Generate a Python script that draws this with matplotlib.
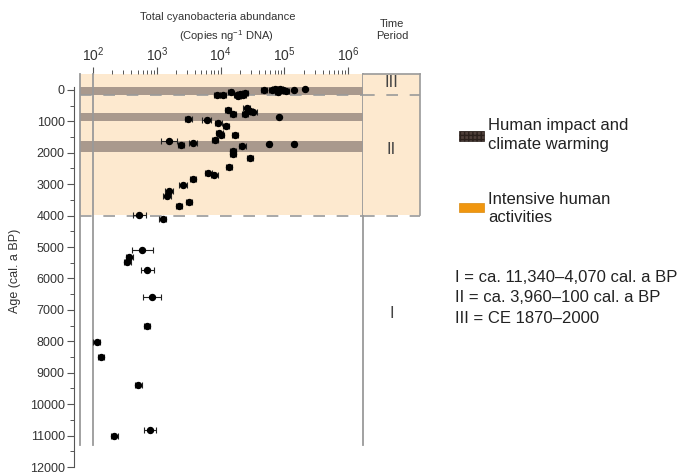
import matplotlib
matplotlib.use('Agg')
import matplotlib.pyplot as plt
from matplotlib.patches import Rectangle
from matplotlib.ticker import FixedLocator, NullFormatter
import numpy as np

plt.rcParams['font.family'] = ['Liberation Sans', 'DejaVu Sans']
plt.rcParams['mathtext.fontset'] = 'custom'
plt.rcParams['mathtext.rm'] = 'Liberation Sans'
plt.rcParams['mathtext.it'] = 'Liberation Sans:italic'

# data
age = [0, 0, -30, 0, -30, 0, 0, -30, 60, 30,
       175, 160, 60, 160, 125, 160, 95, 190,
       630, 765, 575, 685, 715, 755, 875,
       925, 945, 1070, 1160, 1365, 1450, 1600, 1435,
       1640, 1765, 1705, 1735, 1715, 1940, 1800, 2030, 2165,
       2440, 2660, 2715, 2840, 3030, 3230, 3385, 3555, 3710,
       3995, 4100, 5100, 5310, 5465, 5730, 6600, 7520, 8010, 8490, 9380, 10810, 11020]
abundance = [47900, 63200, 71200, 76600, 85300, 94000, 141000, 210000, 79000, 106000,
             8790, 10900, 14400, 17900, 20100, 22200, 24100, 19000,
             13200, 15800, 25600, 28900, 32600, 24100, 82200,
             3120, 6050, 9210, 12200, 9550, 10000, 8170, 16800,
             1570, 2390, 3650, 57900, 143000, 15800, 22000, 15500, 28900,
             13600, 6450, 8020, 3730, 2600, 1570, 1430, 3200, 2250,
             532, 1230, 593, 371, 345, 710, 849, 695, 114, 133, 513, 782, 216]
# half-width of the error bars, in decades
err_dec = [0.05, 0.05, 0.04, 0.04, 0.04, 0.04, 0.02, 0.02, 0.04, 0.04,
           0.05, 0.05, 0.04, 0.05, 0.04, 0.05, 0.05, 0.04,
           0.05, 0.05, 0.05, 0.05, 0.05, 0.04, 0.02,
           0.05, 0.07, 0.05, 0.05, 0.05, 0.05, 0.05, 0.05,
           0.125, 0.05, 0.06, 0.02, 0.02, 0.05, 0.05, 0.05, 0.05,
           0.05, 0.06, 0.06, 0.05, 0.06, 0.06, 0.06, 0.05, 0.05,
           0.105, 0.05, 0.16, 0.05, 0.05, 0.105, 0.14, 0.05, 0.05, 0.05, 0.05, 0.10, 0.05]

impact_bands = [(-90, 160), (725, 980), (1640, 1990)]
period_bounds = [150, 4000]
period_labels = ['III', 'II', 'I']
period_label_age = [-250, 1900, 7100]
period_text = ['I = ca. 11,340\u20134,070 cal. a BP',
               'II = ca. 3,960\u2013100 cal. a BP',
               'III = CE 1870\u20132000']

W, H = 683, 473
PEACH = '#fde9cf'
BAND = '#9b8b82'
GRID = '#9a9a9a'
TXT = '#333333'

fig = plt.figure(figsize=(W / 100, H / 100), dpi=100)

def px_axes(x0, y0, x1, y1):
    return fig.add_axes([x0 / W, 1 - y1 / H, (x1 - x0) / W, (y1 - y0) / H])

YTOP, YBOT = -505, 12000
XLO, XHI = 62.5, 1.706e6
ybot_lines = 11290

ax = px_axes(80, 74, 363, 467)
ax.set_xscale('log')
ax.set_xlim(XLO, XHI)
ax.set_ylim(YBOT, YTOP)

ax.axhspan(YTOP, 3990, color=PEACH, zorder=0, lw=0)
for lo, hi in impact_bands:
    ax.axhspan(lo, hi, color=BAND, alpha=0.85, zorder=1, lw=0)
for b in period_bounds:
    ax.axhline(b, color=GRID, lw=1.2, dashes=(7, 7), zorder=2)
for xv in [XLO, 100, XHI]:
    ax.plot([xv, xv], [YTOP, ybot_lines], color=GRID, lw=1.3, zorder=2, clip_on=False)

a = np.array(abundance, dtype=float)
e = np.array(err_dec)
lo_err = a - a / 10 ** e
hi_err = a * 10 ** e - a
ax.errorbar(a, age, xerr=[lo_err, hi_err], fmt='o', color='black', ms=4.3,
            ecolor='#222222', elinewidth=0.8, capsize=2.3, capthick=0.8, zorder=5)

# axes decoration
for s in ['top', 'right', 'bottom']:
    ax.spines[s].set_visible(False)
ax.spines['left'].set_position(('outward', 4))
ax.spines['left'].set_bounds(-100, 12000)
ax.spines['left'].set_color('#555555')
ax.xaxis.tick_top()
ax.xaxis.set_major_locator(FixedLocator([1e2, 1e3, 1e4, 1e5, 1e6]))
ax.set_xticklabels([r'$10^{2}$', r'$10^{3}$', r'$10^{4}$', r'$10^{5}$', r'$10^{6}$'])
minors = [m * 10 ** d for d in range(2, 6) for m in range(2, 10)]
ax.xaxis.set_minor_locator(FixedLocator(minors))
ax.xaxis.set_minor_formatter(NullFormatter())
ax.tick_params(axis='x', which='major', length=5, width=0.8, color='#555555',
               labelsize=10, labelcolor=TXT, pad=2)
ax.tick_params(axis='x', which='minor', length=3, width=0.7, color='#555555')
ax.set_yticks(np.arange(0, 12001, 1000))
ax.set_yticks(np.arange(500, 12000, 1000), minor=True)
ax.tick_params(axis='y', which='major', length=5, width=0.8, color='#555555',
               labelsize=9, labelcolor=TXT, pad=2)
ax.tick_params(axis='y', which='minor', length=3, width=0.7, color='#555555')
ax.set_ylabel('Age (cal. a BP)', fontsize=9, color=TXT, labelpad=6)

# time period column
tp = px_axes(363, 74, 420, 467)
tp.set_xlim(0, 1)
tp.set_ylim(YBOT, YTOP)
tp.axhspan(YTOP, 3990, color=PEACH, zorder=0, lw=0)
for b in period_bounds:
    tp.axhline(b, color=GRID, lw=1.2, dashes=(7, 7), zorder=2)
tp.plot([1, 1], [YTOP, 3990], color=GRID, lw=1.2, clip_on=False)
tp.plot([0, 1], [YTOP, YTOP], color=GRID, lw=1.2, clip_on=False)
for lab, yv in zip(period_labels, period_label_age):
    tp.text(0.5, yv, lab, ha='center', va='center', fontsize=12, color='#444444')
tp.axis('off')

# overlay in pixel coordinates for the header and legend
ov = fig.add_axes([0, 0, 1, 1], zorder=-1)
ov.set_xlim(0, W)
ov.set_ylim(H, 0)
ov.axis('off')
ov.patch.set_alpha(0)
ov.text(218, 17, 'Total cyanobacteria abundance', ha='center', va='center',
        fontsize=8, color=TXT)
ov.text(226, 36, r'(Copies ng$^{\mathregular{-1}}$ DNA)', ha='center', va='center',
        fontsize=8, color=TXT)
ov.text(392, 30, 'Time\nPeriod', ha='center', va='center', fontsize=8,
        color=TXT, linespacing=1.3)

ov.add_patch(Rectangle((459, 131), 25, 10, facecolor='#4e3f3a', edgecolor='#2a201c',
                       hatch='++++', lw=0.5))
ov.text(488, 135, 'Human impact and\nclimate warming', ha='left', va='center',
        fontsize=12, color='#222222', linespacing=1.3)
ov.add_patch(Rectangle((459, 203), 25, 9, facecolor='#f0960f', edgecolor='#d98a10', lw=0.5))
ov.text(488, 208.5, 'Intensive human\nactivities', ha='left', va='center',
        fontsize=12, color='#222222', linespacing=1.3)
for i, t in enumerate(period_text):
    ov.text(455, 277 + i * 20.5, t, ha='left', va='center', fontsize=12, color='#222222')

fig.savefig('out.png', dpi=100)
